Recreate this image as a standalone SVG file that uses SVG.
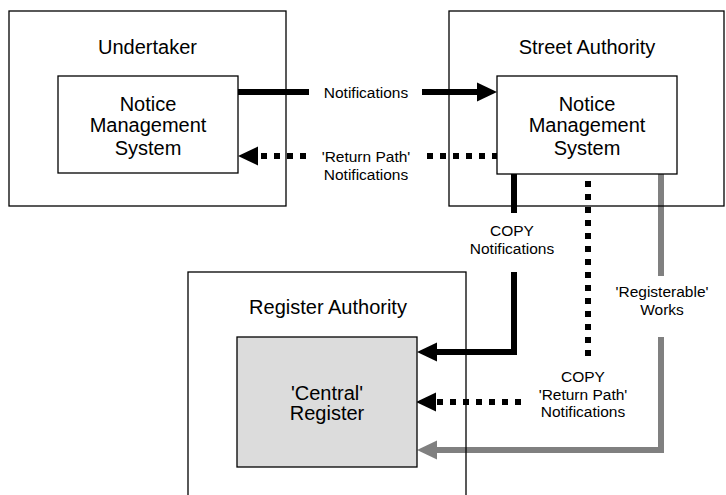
<svg xmlns="http://www.w3.org/2000/svg" width="726" height="495" viewBox="0 0 726 495">
<style>
.outer{fill:none;stroke:#000;stroke-width:1.3}
.inner{fill:#fff;stroke:#000;stroke-width:1.3}
.reg{fill:#dcdcdc;stroke:#000;stroke-width:1.3}
.big{font-family:"Liberation Sans",Arial,sans-serif;font-size:20px;fill:#000;text-anchor:middle}
.small{font-family:"Liberation Sans",Arial,sans-serif;font-size:15.5px;fill:#000;text-anchor:middle}
.solid{fill:none;stroke:#000;stroke-width:6}
.dot{fill:none;stroke:#000;stroke-width:6;stroke-dasharray:6 7}
.grey{fill:none;stroke:#808080;stroke-width:6}
</style>
<defs>
<marker id="ah" markerUnits="userSpaceOnUse" markerWidth="22" markerHeight="20" refX="0" refY="9.5" orient="auto" overflow="visible">
<path d="M0,0 L20,9.5 L0,19 Z" fill="#000"/>
</marker>
<marker id="ahg" markerUnits="userSpaceOnUse" markerWidth="22" markerHeight="20" refX="0" refY="9.5" orient="auto" overflow="visible">
<path d="M0,0 L20,9.5 L0,19 Z" fill="#808080"/>
</marker>
</defs>
<rect x="0" y="0" width="726" height="495" fill="#fff"/>
<g id="connectors">
<path class="solid" d="M238,92 H309"/>
<path class="solid" d="M422,92 H477" marker-end="url(#ah)"/>
<path class="dot" d="M427,156 H497"/>
<path class="dot" d="M306,156 H258" marker-end="url(#ah)"/>
<path class="solid" d="M514,174 V213"/>
<path class="solid" d="M514,272 V352 H437" marker-end="url(#ah)"/>
<path class="dot" d="M588,356 V174"/>
<path class="dot" d="M521,402 H436" marker-end="url(#ah)"/>
<path class="grey" d="M661,174 V276"/>
<path class="grey" d="M661,337 V450 H437" marker-end="url(#ahg)"/>
</g>
<g id="undertaker">
<rect class="outer" x="9" y="11" width="277" height="195"/>
<text class="big" x="147.5" y="54">Undertaker</text>
</g>
<g id="undertaker-nms">
<rect class="inner" x="58" y="76" width="180" height="97"/>
<text class="big" x="148" y="111">Notice</text>
<text class="big" x="148" y="132">Management</text>
<text class="big" x="148" y="155">System</text>
</g>
<g id="street-authority">
<rect class="outer" x="449" y="11" width="275" height="195"/>
<text class="big" x="587" y="54">Street Authority</text>
</g>
<g id="street-nms">
<rect class="inner" x="497" y="76" width="180" height="98"/>
<text class="big" x="587" y="111">Notice</text>
<text class="big" x="587" y="132">Management</text>
<text class="big" x="587" y="155">System</text>
</g>
<g id="register-authority">
<rect class="outer" x="188" y="272" width="278" height="240"/>
<text class="big" x="328" y="314">Register Authority</text>
</g>
<g id="central-register">
<rect class="reg" x="237" y="337" width="180" height="130"/>
<text class="big" x="327" y="400">'Central'</text>
<text class="big" x="327" y="420">Register</text>
</g>
<g id="labels">
<text class="small" x="366" y="98">Notifications</text>
<text class="small" x="366" y="162">'Return Path'</text>
<text class="small" x="366" y="180">Notifications</text>
<text class="small" x="512" y="236">COPY</text>
<text class="small" x="512" y="254">Notifications</text>
<text class="small" x="662" y="297">'Registerable'</text>
<text class="small" x="662" y="315">Works</text>
<text class="small" x="583" y="382">COPY</text>
<text class="small" x="583" y="400">'Return Path'</text>
<text class="small" x="583" y="417">Notifications</text>
</g>
</svg>
